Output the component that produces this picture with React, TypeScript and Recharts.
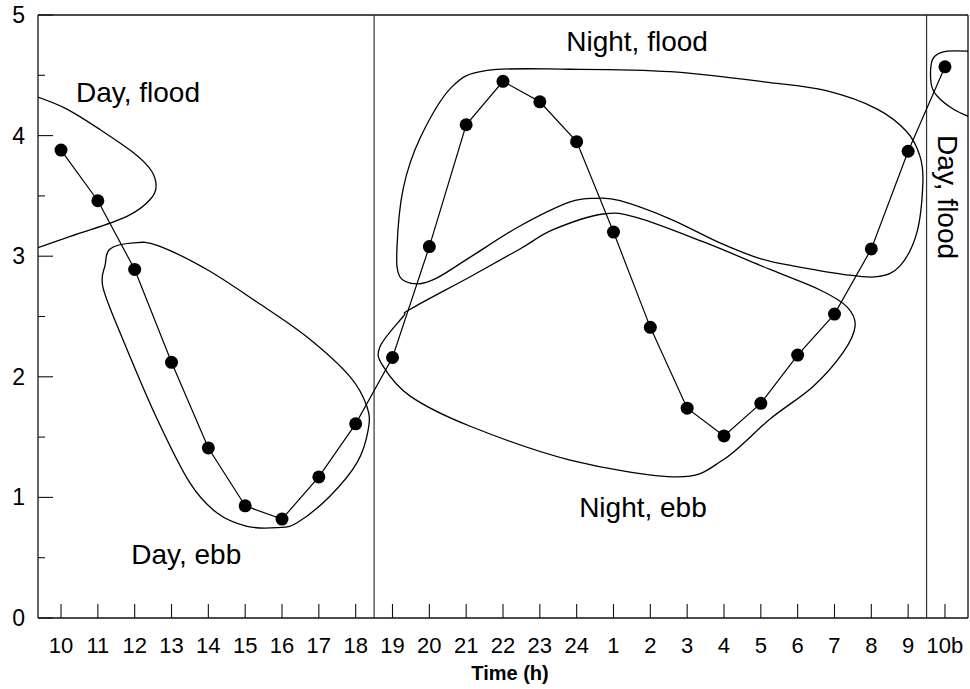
import React from 'react';
import { ComposedChart, Line, XAxis, YAxis, ReferenceLine, ReferenceDot, Label } from 'recharts';

// sampling hours, left to right
const hours = ['10', '11', '12', '13', '14', '15', '16', '17', '18', '19', '20', '21', '22', '23', '24',
    '1', '2', '3', '4', '5', '6', '7', '8', '9', '10b'];
const values = [3.88, 3.46, 2.89, 2.12, 1.41, 0.93, 0.82, 1.17, 1.61, 2.16, 3.08, 4.09, 4.45, 4.28, 3.95,
    3.2, 2.41, 1.74, 1.51, 1.78, 2.18, 2.52, 3.06, 3.87, 4.57];
const yTicks = [0, 0.5, 1, 1.5, 2, 2.5, 3, 3.5, 4, 4.5, 5];
const xDomain = [-0.625, 24.625];
const dayNightBreaks = [8.5, 23.5];

// hand-drawn group outlines, in (hour index, value) units
const dayFloodLeft = [[-0.63, 4.32], [0.16, 4.22], [1.06, 4.05], [1.96, 3.86], [2.47, 3.7], [2.58, 3.57],
    [2.42, 3.47], [1.79, 3.33], [0.6, 3.2], [-0.63, 3.07]];
const dayFloodRight = [[24.63, 4.7], [24.06, 4.7], [23.73, 4.66], [23.62, 4.58], [23.62, 4.44], [23.78, 4.33],
    [24.22, 4.22], [24.63, 4.16]];
const dayEbb = [[1.33, 3.06], [1.96, 3.11], [2.61, 3.09], [3.96, 2.89], [5.32, 2.62], [6.68, 2.33], [7.85, 2.0],
    [8.31, 1.75], [8.34, 1.56], [8.04, 1.29], [7.3, 1.01], [6.41, 0.79], [5.87, 0.75], [5.05, 0.76], [4.24, 0.87],
    [3.5, 1.12], [2.61, 1.65], [1.68, 2.31], [1.14, 2.74], [1.2, 2.93]];
const nightFlood = [[11.57, 4.54], [13.82, 4.55], [16.54, 4.53], [19.25, 4.44], [20.8, 4.37], [22.16, 4.22],
    [22.97, 4.03], [23.32, 3.83], [23.4, 3.61], [23.24, 3.2], [22.78, 2.92], [22.16, 2.83], [21.23, 2.85],
    [19.87, 2.92], [18.98, 2.98], [17.89, 3.11], [16.53, 3.31], [15.18, 3.46], [14.55, 3.48], [13.82, 3.45],
    [12.46, 3.25], [11.1, 2.99], [10.21, 2.82], [9.67, 2.77], [9.2, 2.83], [9.12, 3.06], [9.29, 3.56],
    [9.75, 3.98], [10.6, 4.4]];
const nightEbb = [[9.48, 2.56], [11.11, 2.83], [12.46, 3.06], [13.36, 3.22], [14.72, 3.35], [15.64, 3.32],
    [17.43, 3.12], [19.25, 2.89], [20.61, 2.72], [21.34, 2.58], [21.56, 2.42], [21.23, 2.2], [20.42, 1.92],
    [19.25, 1.65], [17.97, 1.31], [16.73, 1.17], [13.82, 1.31], [11.11, 1.59], [9.48, 1.84], [8.74, 2.09],
    [8.66, 2.25], [9.29, 2.5]];

const notes = [
    { text: 'Day, flood', x: 2.09, y: 4.36, angle: 0 },
    { text: 'Night, flood', x: 15.64, y: 4.78, angle: 0 },
    { text: 'Day, ebb', x: 3.4, y: 0.53, angle: 0 },
    { text: 'Night, ebb', x: 15.8, y: 0.92, angle: 0 },
    { text: 'Day, flood', x: 24.08, y: 3.49, angle: 90 },
];

const series = values.map((v, i) => ({ x: i, y: v }));
const toRows = (pts: number[][]) => pts.map(([x, y]) => ({ x, y }));

// closed catmull-rom curve so the outlines pass through the traced points
const smoothLoop = (context: any) => {
    let pts: number[][] = [];
    return {
        areaStart() { },
        areaEnd() { },
        lineStart() { pts = []; },
        point(x: number, y: number) { pts.push([+x, +y]); },
        lineEnd() {
            const n = pts.length;
            if (n < 3) return;
            context.moveTo(pts[0][0], pts[0][1]);
            for (let i = 0; i < n; i++) {
                const a = pts[(i + n - 1) % n], b = pts[i], c = pts[(i + 1) % n], d = pts[(i + 2) % n];
                context.bezierCurveTo(
                    b[0] + (c[0] - a[0]) / 6, b[1] + (c[1] - a[1]) / 6,
                    c[0] - (d[0] - b[0]) / 6, c[1] - (d[1] - b[1]) / 6,
                    c[0], c[1]
                );
            }
            context.closePath();
        },
    };
};

const HourTick = ({ x, y, payload }: any) => (
    <g>
        <line x1={x} x2={x} y1={y} y2={y - 14} stroke="#111" strokeWidth={1.1} />
        <text x={x} y={y + 35} textAnchor="middle" fontSize={22} fill="#000">{hours[payload.value]}</text>
    </g>
);

const ValueTick = ({ x, y, payload }: any) => {
    const major = Number.isInteger(payload.value);
    return (
        <g>
            <line x1={x} x2={x + (major ? 15 : 7)} y1={y} y2={y} stroke="#111" strokeWidth={1.1} />
            {major && (
                <text x={x - 13} y={y + 8} textAnchor="end" fontSize={23} fill="#000">{payload.value}</text>
            )}
        </g>
    );
};

const outline = (key: string, pts: number[][], closed: boolean) => (
    <Line
        key={key}
        data={toRows(pts)}
        dataKey="y"
        type={closed ? smoothLoop : 'natural'}
        stroke="#000"
        strokeWidth={1.3}
        dot={false}
        activeDot={false}
        legendType="none"
        isAnimationActive={false}
    />
);

export default function App() {
    return (
        <div style={{ position: 'absolute', left: 0, top: 0, fontFamily: '"Liberation Sans", Arial, sans-serif', background: '#fff' }}>
            <ComposedChart width={970} height={689} margin={{ top: 15, right: 2, bottom: 0, left: 0 }}>
                <XAxis
                    type="number"
                    dataKey="x"
                    domain={xDomain}
                    allowDataOverflow
                    ticks={hours.map((_, i) => i)}
                    interval={0}
                    height={71}
                    tickLine={false}
                    tickSize={0}
                    tickMargin={0}
                    tick={<HourTick />}
                    axisLine={{ stroke: '#111', strokeWidth: 1.3 }}
                >
                    <Label value="Time (h)" position="insideBottom" offset={9} dx={7} fontSize={20} fontWeight="bold" fill="#000" />
                </XAxis>
                <YAxis
                    type="number"
                    domain={[0, 5]}
                    allowDataOverflow
                    ticks={yTicks}
                    interval={0}
                    width={38}
                    tickLine={false}
                    tickSize={0}
                    tickMargin={0}
                    tick={<ValueTick />}
                    axisLine={{ stroke: '#111', strokeWidth: 1.3 }}
                />
                <ReferenceLine y={5} stroke="#111" strokeWidth={1.3} ifOverflow="visible" />
                <ReferenceLine x={xDomain[1]} stroke="#111" strokeWidth={1.3} ifOverflow="visible" />
                {dayNightBreaks.map((b) => (
                    <ReferenceLine key={b} x={b} stroke="#333" strokeWidth={1.2} />
                ))}

                {outline('dfl', dayFloodLeft, false)}
                {outline('dfr', dayFloodRight, false)}
                {outline('de', dayEbb, true)}
                {outline('nf', nightFlood, true)}
                {outline('ne', nightEbb, true)}

                <Line
                    data={series}
                    dataKey="y"
                    type="linear"
                    stroke="#000"
                    strokeWidth={1.2}
                    dot={{ r: 6.5, fill: '#000', stroke: 'none' }}
                    activeDot={false}
                    legendType="none"
                    isAnimationActive={false}
                />

                {notes.map((n, i) => (
                    <ReferenceDot
                        key={i}
                        x={n.x}
                        y={n.y}
                        r={1}
                        fill="none"
                        stroke="none"
                        label={{ value: n.text, position: 'center', fontSize: 28, fill: '#000', angle: n.angle }}
                    />
                ))}
            </ComposedChart>
        </div>
    );
}
